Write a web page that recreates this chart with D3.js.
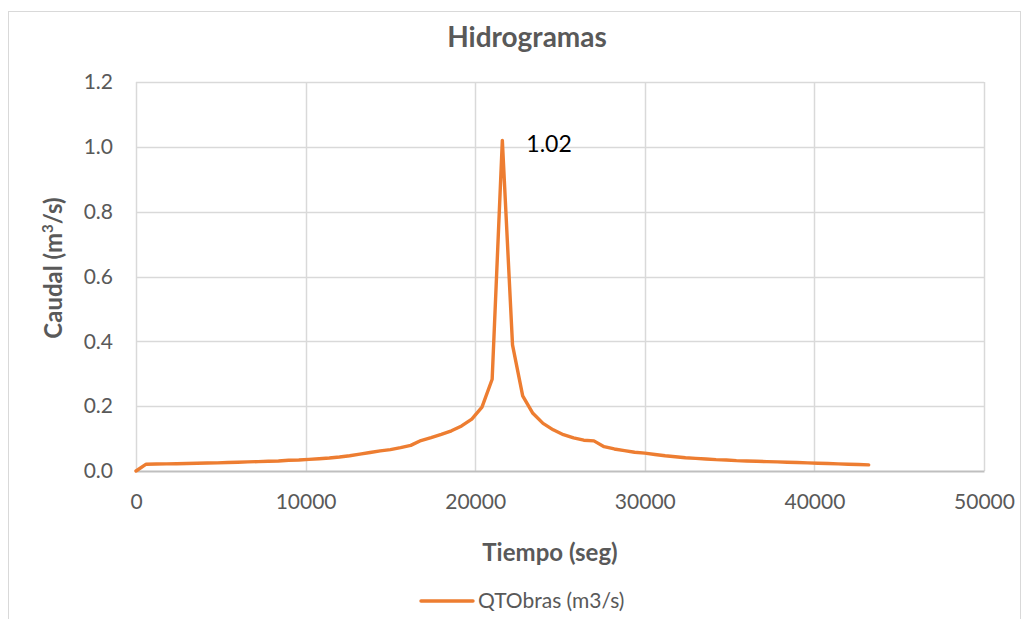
<!DOCTYPE html>
<html>
<head>
<meta charset="utf-8">
<script src="https://cdn.jsdelivr.net/npm/d3@7"></script>
<style>
  html, body { margin: 0; padding: 0; background: #fff; }
  svg { display: block; font-family: Lato, "Open Sans", "Liberation Sans", sans-serif; }
</style>
</head>
<body>
<svg id="chart" width="1027" height="619"></svg>
<script>
// Hydrograph: time (s) vs discharge (m3/s)
const tiempo = [
  0, 600, 1200, 1800, 2400, 3000, 3600, 4200, 4800, 5400,
  6000, 6600, 7200, 7800, 8400, 9000, 9600, 10200, 10800, 11400,
  12000, 12600, 13200, 13800, 14400, 15000, 15600, 16200, 16800, 17400,
  18000, 18600, 19200, 19800, 20400, 21000, 21600, 22200, 22800, 23400,
  24000, 24600, 25200, 25800, 26400, 27000, 27600, 28200, 28800, 29400,
  30000, 30600, 31200, 31800, 32400, 33000, 33600, 34200, 34800, 35400,
  36000, 36600, 37200, 37800, 38400, 39000, 39600, 40200, 40800, 41400,
  42000, 42600, 43200
];
const caudal = [
  0, 0.021, 0.0215, 0.022, 0.0225, 0.023, 0.0238, 0.0245, 0.025, 0.026,
  0.027, 0.028, 0.029, 0.030, 0.031, 0.033, 0.034, 0.036, 0.038, 0.040,
  0.043, 0.047, 0.052, 0.057, 0.062, 0.066, 0.072, 0.079, 0.094, 0.103,
  0.113, 0.124, 0.139, 0.160, 0.197, 0.283, 1.02, 0.389, 0.232, 0.178,
  0.147, 0.127, 0.112, 0.102, 0.095, 0.093, 0.075, 0.068, 0.063, 0.058,
  0.055, 0.051, 0.047, 0.044, 0.041, 0.039, 0.037, 0.035, 0.034, 0.032,
  0.031, 0.030, 0.029, 0.028, 0.027, 0.026, 0.025, 0.024, 0.023, 0.022,
  0.021, 0.020, 0.019
];
const xTicks = [0, 10000, 20000, 30000, 40000, 50000];
const yTicks = [0, 0.2, 0.4, 0.6, 0.8, 1.0, 1.2];
const titulo = "Hidrogramas";
const ejeX = "Tiempo (seg)";
const serie = "QTObras (m3/s)";

const svg = d3.select("#chart");
const plot = { left: 136, right: 984, top: 82, bottom: 471 };

const x = d3.scaleLinear().domain([0, 50000]).range([plot.left, plot.right]);
const y = d3.scaleLinear().domain([0, 1.2]).range([plot.bottom, plot.top]);

// chart frame
svg.append("rect")
  .attr("x", 8.5).attr("y", 11.5)
  .attr("width", 1012).attr("height", 640)
  .attr("fill", "#fff").attr("stroke", "#d9d9d9").attr("stroke-width", 1);

// title
svg.append("text")
  .attr("x", 527).attr("y", 47)
  .attr("text-anchor", "middle")
  .attr("font-size", 28).attr("font-weight", "bold")
  .attr("fill", "#595959")
  .text(titulo);

// grid
const grid = svg.append("g");
grid.selectAll("line.h").data(yTicks.filter(d => d > 0)).join("line")
  .attr("x1", plot.left).attr("x2", plot.right)
  .attr("y1", d => Math.round(y(d)) + 0.5).attr("y2", d => Math.round(y(d)) + 0.5)
  .attr("stroke", "#d9d9d9").attr("stroke-width", 1.5);
grid.selectAll("line.v").data(xTicks).join("line")
  .attr("x1", d => Math.round(x(d)) + 0.5).attr("x2", d => Math.round(x(d)) + 0.5)
  .attr("y1", plot.top).attr("y2", plot.bottom)
  .attr("stroke", "#d9d9d9").attr("stroke-width", 1.5);

// x axis
const xAxis = svg.append("g")
  .attr("transform", `translate(0,${plot.bottom})`)
  .call(d3.axisBottom(x).tickValues(xTicks).tickFormat(d3.format("d")).tickSize(0).tickPadding(23));
xAxis.select(".domain").attr("stroke", "#bfbfbf").attr("stroke-width", 2);
xAxis.selectAll("text").attr("font-size", 21).attr("fill", "#595959").attr("font-family", "Lato, sans-serif");

// y axis
const yAxis = svg.append("g")
  .attr("transform", `translate(${plot.left},0)`)
  .call(d3.axisLeft(y).tickValues(yTicks).tickFormat(d3.format(".1f")).tickSize(0).tickPadding(23));
yAxis.select(".domain").remove();
yAxis.selectAll("text").attr("font-size", 21).attr("fill", "#595959").attr("font-family", "Lato, sans-serif");

// axis titles
svg.append("text")
  .attr("x", 550).attr("y", 561)
  .attr("text-anchor", "middle")
  .attr("font-size", 24).attr("font-weight", "bold").attr("fill", "#595959")
  .text(ejeX);

const yt = svg.append("text")
  .attr("transform", `translate(62,268) rotate(-90)`)
  .attr("text-anchor", "middle")
  .attr("font-size", 24).attr("font-weight", "bold").attr("fill", "#595959");
yt.append("tspan").text("Caudal (m");
yt.append("tspan").attr("font-size", 15).attr("dy", -9).text("3");
yt.append("tspan").attr("dy", 9).text("/s)");

// series
const pts = tiempo.map((t, i) => [t, caudal[i]]);
const line = d3.line().x(d => x(d[0])).y(d => y(d[1]));
svg.append("path")
  .datum(pts)
  .attr("d", line)
  .attr("fill", "none")
  .attr("stroke", "#ED7D31")
  .attr("stroke-width", 3.4)
  .attr("stroke-linejoin", "round")
  .attr("stroke-linecap", "round");

// peak label
const iMax = d3.maxIndex(caudal);
svg.append("text")
  .attr("x", x(tiempo[iMax]) + 24).attr("y", y(caudal[iMax]) + 12)
  .attr("font-size", 23).attr("fill", "#000")
  .text(d3.format(".2f")(caudal[iMax]));

// legend
const lg = svg.append("g").attr("transform", "translate(421,601)");
lg.append("line").attr("x1", 0).attr("x2", 52).attr("y1", 0).attr("y2", 0)
  .attr("stroke", "#ED7D31").attr("stroke-width", 3.4).attr("stroke-linecap", "round");
lg.append("text").attr("x", 57).attr("y", 7)
  .attr("font-size", 21).attr("fill", "#595959")
  .text(serie);
</script>
</body>
</html>
